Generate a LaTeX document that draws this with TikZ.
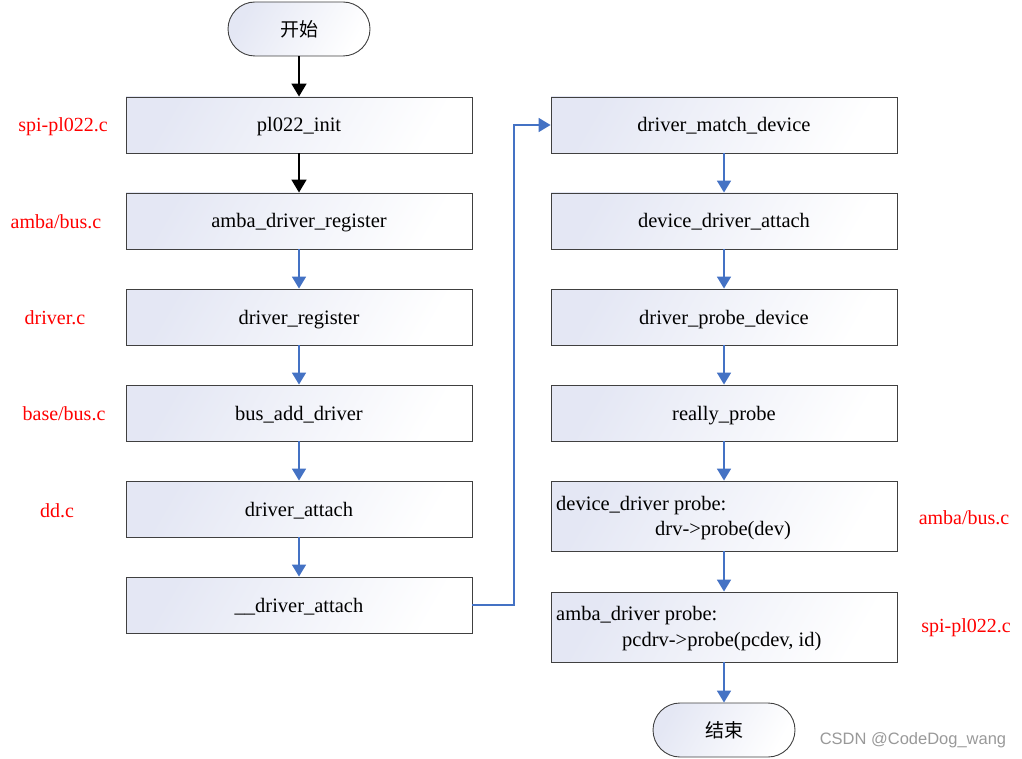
\documentclass[tikz,border=0pt]{standalone}
\usepackage{fontspec}
\setmainfont{Liberation Serif}
\newfontfamily\cjk{Noto Sans CJK SC}
\newfontfamily\wmfont{Liberation Sans}
\usetikzlibrary{arrows.meta}
\definecolor{flowblue}{HTML}{4472C4}
\definecolor{boxtint}{HTML}{E4E7F4}
\definecolor{fname}{HTML}{FF0000}
\tikzset{
  procbox/.style={draw=black!75, line width=0.9pt, minimum width=346pt, minimum height=56pt,
    inner sep=0pt, left color=boxtint, right color=white, shading angle=60,
    text height=20pt, text depth=6pt,
    font=\fontsize{20.5}{24}\selectfont},
  tallbox/.style={procbox, minimum height=70pt},
  termbox/.style={draw=black!75, line width=0.9pt, minimum width=142pt, minimum height=54pt,
    rounded corners=27pt, inner sep=0pt, left color=boxtint, right color=white, shading angle=60,
    font=\cjk\fontsize{19}{22}\selectfont},
  srcfile/.style={text=fname, font=\fontsize{20}{24}\selectfont},
  boxtext/.style={font=\fontsize{20.5}{24}\selectfont, inner sep=0pt, anchor=west},
  blackflow/.style={draw=black, line width=1.8pt, -{Triangle[width=15pt,length=13pt]}},
  blueflow/.style={draw=flowblue, line width=1.8pt, -{Triangle[width=14pt,length=12pt]}},
}
\begin{document}
\begin{tikzpicture}[x=1pt,y=-1pt]
\useasboundingbox (0,0) rectangle (1022,759);
% left column
\node[termbox] (start) at (299,29) {开始};
\node[procbox] (init) at (299,125) {pl022\_init};
\node[procbox] (ambareg) at (299,221) {amba\_driver\_register};
\node[procbox] (drvreg) at (299,317) {driver\_register};
\node[procbox] (busadd) at (299,413) {bus\_add\_driver};
\node[procbox] (attach) at (299,509) {driver\_attach};
\node[procbox] (uattach) at (299,605) {\_\_driver\_attach};
% right column
\node[procbox] (match) at (724,125) {driver\_match\_device};
\node[procbox] (devattach) at (724,221) {device\_driver\_attach};
\node[procbox] (probedev) at (724,317) {driver\_probe\_device};
\node[procbox] (really) at (724,413) {really\_probe};
\node[tallbox] (devprobe) at (724,516) {};
\node[boxtext] (devprobeA) at (556,506) {device\_driver probe:};
\node[boxtext] (devprobeB) at (655,531) {drv->probe(dev)};
\node[tallbox] (ambaprobe) at (724,627) {};
\node[boxtext] (ambaprobeA) at (556,616) {amba\_driver probe:};
\node[boxtext] (ambaprobeB) at (622,642) {pcdrv->probe(pcdev, id)};
\node[termbox] (stop) at (724,730) {结束};
% source file labels
\node[srcfile] (f1) at (63,127) {spi-pl022.c};
\node[srcfile] (f2) at (56,222) {amba/bus.c};
\node[srcfile] (f3) at (55,318) {driver.c};
\node[srcfile] (f4) at (64,414) {base/bus.c};
\node[srcfile] (f5) at (57,511) {dd.c};
\node[srcfile] (f6) at (964,518) {amba/bus.c};
\node[srcfile] (f7) at (966,628) {spi-pl022.c};
% watermark
\node[text=black!40, font=\wmfont\fontsize{16.5}{20}\selectfont] (wm) at (913,740) {CSDN @CodeDog\_wang};
% connectors
\draw[blackflow] (start) -- (init);
\draw[blackflow] (init) -- (ambareg);
\draw[blueflow] (ambareg) -- (drvreg);
\draw[blueflow] (drvreg) -- (busadd);
\draw[blueflow] (busadd) -- (attach);
\draw[blueflow] (attach) -- (uattach);
\coordinate (turnlow) at (514,605);
\coordinate (turnhigh) at (514,125);
\draw[blueflow] (uattach.east) -- (turnlow) -- (turnhigh) -- (match.west);
\draw[blueflow] (match) -- (devattach);
\draw[blueflow] (devattach) -- (probedev);
\draw[blueflow] (probedev) -- (really);
\draw[blueflow] (really) -- (devprobe);
\draw[blueflow] (devprobe) -- (ambaprobe);
\draw[blueflow] (ambaprobe) -- (stop);
\end{tikzpicture}
\end{document}
